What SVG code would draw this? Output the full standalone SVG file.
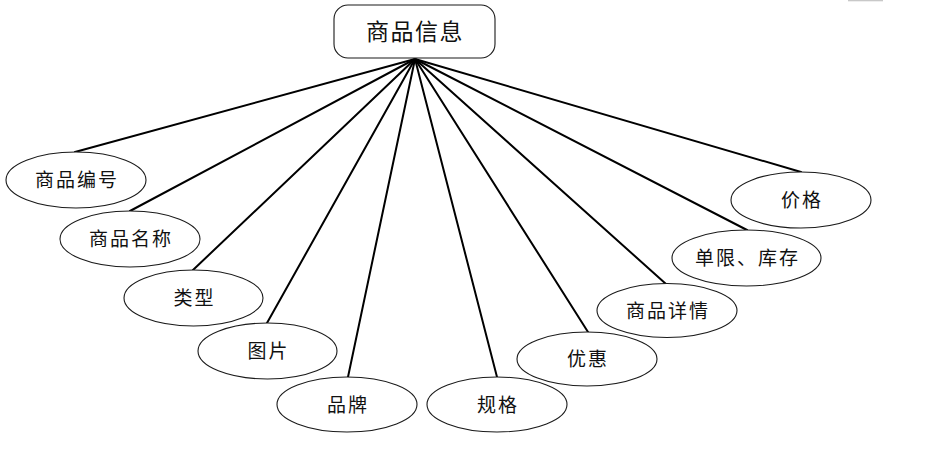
<svg xmlns="http://www.w3.org/2000/svg" width="925" height="454" viewBox="0 0 925 454">
<style>
.bg{fill:#ffffff}
.conn line{stroke:#000;stroke-width:2;stroke-linecap:round}
.node ellipse{fill:#fff;stroke:#1a1a1a;stroke-width:1.1}
.node rect{fill:#fff;stroke:#1a1a1a;stroke-width:1.1}
.node text{font-family:"Noto Sans CJK SC","Liberation Sans",sans-serif;font-size:19px;letter-spacing:2px;fill:#111;text-anchor:middle}
#root text{font-size:23px;letter-spacing:1.5px}
</style>
<rect class="bg" x="0" y="0" width="925" height="454"/>
<rect x="848" y="0" width="35" height="1.3" fill="#c8c8c8"/>
<g id="connectors" class="conn">
<line x1="415" y1="59" x2="75" y2="152"/>
<line x1="415" y1="59" x2="130" y2="211"/>
<line x1="415" y1="59" x2="193" y2="270"/>
<line x1="415" y1="59" x2="267" y2="323"/>
<line x1="415" y1="59" x2="348" y2="377"/>
<line x1="415" y1="59" x2="497" y2="377"/>
<line x1="415" y1="59" x2="588" y2="332"/>
<line x1="415" y1="59" x2="666" y2="284"/>
<line x1="415" y1="59" x2="747" y2="230"/>
<line x1="415" y1="59" x2="801" y2="172"/>
</g>
<g id="root" class="node">
<rect x="334" y="5" width="161" height="53" rx="14"/>
<text x="415" y="40">商品信息</text>
</g>
<g id="n1" class="node"><ellipse cx="76" cy="180" rx="70" ry="28"/><text x="77" y="187">商品编号</text></g>
<g id="n2" class="node"><ellipse cx="130" cy="239" rx="70" ry="28"/><text x="131" y="246">商品名称</text></g>
<g id="n3" class="node"><ellipse cx="193.5" cy="298" rx="69.5" ry="28"/><text x="194.5" y="305">类型</text></g>
<g id="n4" class="node"><ellipse cx="267.5" cy="351" rx="69.5" ry="28"/><text x="268.5" y="358">图片</text></g>
<g id="n5" class="node"><ellipse cx="347" cy="404.5" rx="70" ry="27.5"/><text x="348" y="411.5">品牌</text></g>
<g id="n6" class="node"><ellipse cx="497" cy="404.5" rx="70" ry="27.5"/><text x="498" y="411.5">规格</text></g>
<g id="n7" class="node"><ellipse cx="587" cy="359" rx="70" ry="27"/><text x="588" y="366">优惠</text></g>
<g id="n8" class="node"><ellipse cx="667" cy="310.5" rx="70" ry="27"/><text x="668" y="317.5">商品详情</text></g>
<g id="n9" class="node"><ellipse cx="746.5" cy="258" rx="74.5" ry="28"/><text x="747.5" y="265">单限、库存</text></g>
<g id="n10" class="node"><ellipse cx="801" cy="200" rx="70" ry="28"/><text x="802" y="207">价格</text></g>
</svg>
